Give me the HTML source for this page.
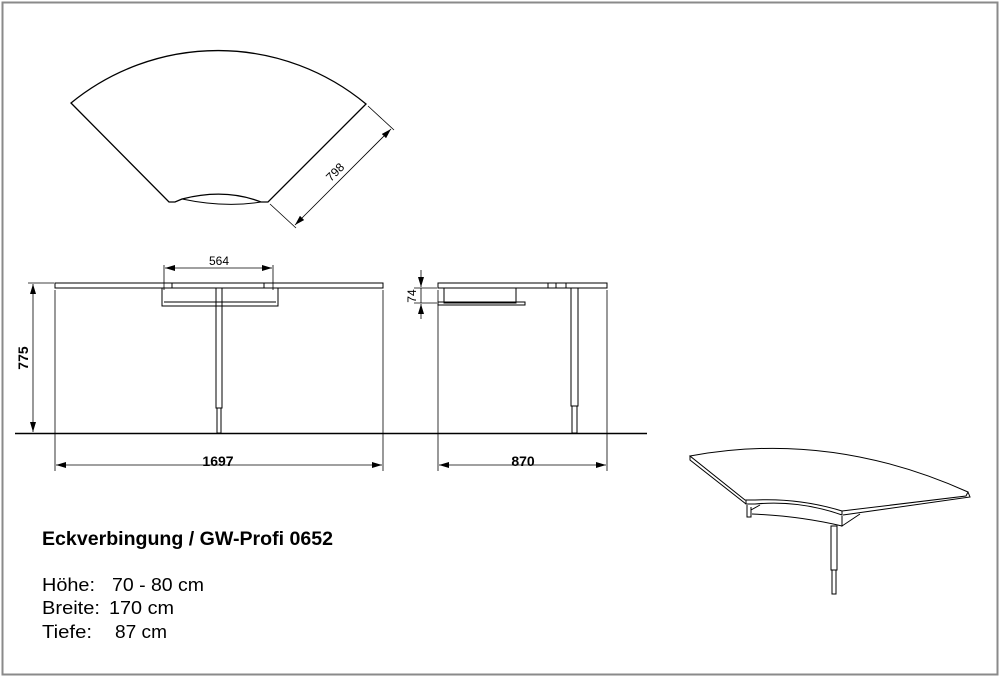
<!DOCTYPE html>
<html><head><meta charset="utf-8"><style>
html,body{margin:0;padding:0;background:#fff;}
svg{display:block;font-family:"Liberation Sans",Arial,sans-serif;}
</style></head><body>
<svg width="1000" height="678" viewBox="0 0 1000 678" xmlns="http://www.w3.org/2000/svg">
<rect x="2.5" y="2.5" width="995" height="672" fill="#fff" stroke="#8a8a8a" stroke-width="2"/>
<defs>
<marker id="a" viewBox="0 0 10 6" refX="10" refY="3" markerWidth="10" markerHeight="6" orient="auto-start-reverse" markerUnits="userSpaceOnUse"><path d="M0,0 L10,3 L0,6 z" fill="#000"/></marker>
</defs>
<g fill="none" stroke="#000" stroke-width="1.3">
<path d="M71,103 A232,232 0 0 1 366,104 L268,202 L261,202 Q225,188 182,199 L175,202 L169,202 Z"/>
<path d="M182,199 Q225,208 261,202" stroke-width="1"/>
</g>
<g stroke="#000" stroke-width="0.8" fill="none">
<line x1="368" y1="106" x2="394" y2="130"/>
<line x1="270" y1="204" x2="296" y2="228"/>
<line x1="391" y1="129" x2="295" y2="225" marker-start="url(#a)" marker-end="url(#a)"/>
</g>
<text x="338" y="175" font-size="12" transform="rotate(-45 338 175)" text-anchor="middle">798</text>

<g fill="none" stroke="#000" stroke-width="1">
<rect x="55" y="283" width="328" height="5"/>
<rect x="162" y="288" width="116" height="18"/>
<line x1="164" y1="302" x2="276" y2="302"/>
<rect x="216" y="288" width="6" height="120"/>
<rect x="217" y="408" width="4" height="25"/>
<line x1="172" y1="283" x2="172" y2="288"/><line x1="264" y1="283" x2="264" y2="288"/>
<rect x="438" y="283" width="169" height="5"/>
<rect x="444" y="288" width="72" height="15"/>
<rect x="438" y="302" width="87" height="3"/>
<rect x="571" y="288" width="7" height="118"/>
<rect x="572" y="406" width="5" height="27"/>
<line x1="548" y1="283" x2="548" y2="288"/><line x1="556" y1="283" x2="556" y2="288"/><line x1="566" y1="283" x2="566" y2="288"/>
</g>
<line x1="15" y1="433.5" x2="647" y2="433.5" stroke="#000" stroke-width="1.6"/>
<g stroke="#000" stroke-width="0.8" fill="none">
<line x1="28" y1="283" x2="54" y2="283"/>
<line x1="33" y1="284" x2="33" y2="432" marker-start="url(#a)" marker-end="url(#a)"/>
<line x1="55" y1="290" x2="55" y2="471"/><line x1="383" y1="290" x2="383" y2="471"/>
<line x1="56" y1="465" x2="382" y2="465" marker-start="url(#a)" marker-end="url(#a)"/>
<line x1="438" y1="290" x2="438" y2="471"/><line x1="607" y1="290" x2="607" y2="471"/>
<line x1="439" y1="465" x2="606" y2="465" marker-start="url(#a)" marker-end="url(#a)"/>
<line x1="164" y1="265" x2="164" y2="290"/><line x1="273" y1="265" x2="273" y2="290"/>
<line x1="165" y1="268" x2="272" y2="268" marker-start="url(#a)" marker-end="url(#a)"/>
<line x1="414" y1="288" x2="437" y2="288"/><line x1="414" y1="303" x2="437" y2="303"/>
<line x1="421" y1="270" x2="421" y2="287" marker-end="url(#a)"/>
<line x1="421" y1="319" x2="421" y2="304" marker-end="url(#a)"/>
<line x1="421" y1="288" x2="421" y2="303"/>
</g>
<text x="219" y="265" font-size="12" text-anchor="middle">564</text>
<text x="218" y="466" font-size="14" font-weight="bold" text-anchor="middle">1697</text>
<text x="523" y="466" font-size="14" font-weight="bold" text-anchor="middle">870</text>
<text x="28" y="358" font-size="14" font-weight="bold" text-anchor="middle" transform="rotate(-90 28 358)">775</text>
<text x="416" y="296" font-size="12" text-anchor="middle" transform="rotate(-90 416 296)">74</text>

<g fill="none" stroke="#000" stroke-width="1">
<path d="M690,456 Q830,430 968,492 L966,496 L842,511 Q800,498 755,500 L745,500 Z"/>
<path d="M690,456 L690,460 L746,504"/>
<path d="M968,492 L970,497 L843,515"/>
<path d="M746,500 L746,504 L755,504 Q800,500 842,515 L842,511"/>
<path d="M747,505 L747,517 L751,517 L751,507"/>
<path d="M751,510 L760,505"/>
<path d="M752,514 Q800,516 842,526 L842,517"/>
<path d="M842,516 L842,526 L860,514"/>
<rect x="831" y="526" width="6" height="44"/>
<rect x="832" y="570" width="4" height="24"/>
</g>

<text x="42" y="545" font-size="19" font-weight="bold" textLength="291" lengthAdjust="spacingAndGlyphs">Eckverbingung / GW-Profi 0652</text>
<g font-size="18">
<text x="42" y="591" textLength="53" lengthAdjust="spacingAndGlyphs">Höhe:</text><text x="112" y="591" textLength="92" lengthAdjust="spacingAndGlyphs">70 - 80 cm</text>
<text x="42" y="614" textLength="58" lengthAdjust="spacingAndGlyphs">Breite:</text><text x="109" y="614" textLength="65" lengthAdjust="spacingAndGlyphs">170 cm</text>
<text x="42" y="638" textLength="50" lengthAdjust="spacingAndGlyphs">Tiefe:</text><text x="115" y="638" textLength="52" lengthAdjust="spacingAndGlyphs">87 cm</text>
</g>
</svg>
</body></html>
